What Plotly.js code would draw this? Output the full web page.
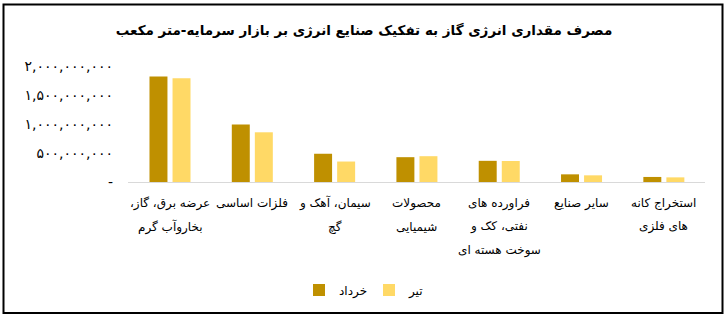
<!DOCTYPE html>
<html>
<head>
<meta charset="utf-8">
<script src="https://cdn.plot.ly/plotly-3.0.1.min.js"></script>
<style>
html,body{margin:0;padding:0;background:#fff;}
#chart{width:728px;height:318px;}
</style>
</head>
<body>
<div id="chart"></div>
<script>
const categories = [
  "عرضه برق، گاز،<br>بخاروآب گرم",
  "فلزات اساسی",
  "سیمان، آهک و<br>گچ",
  "محصولات<br>شیمیایی",
  "فراورده های<br>نفتی، کک و<br>سوخت هسته ای",
  "سایر صنایع",
  "استخراج کانه<br>های فلزی"
];
const seriesNames = ["خرداد", "تیر"];
const khordad = [1820000000, 990000000, 487000000, 428000000, 365000000, 132000000, 87000000];
const tir = [1790000000, 857000000, 353000000, 445000000, 362000000, 115000000, 80000000];
const tickVals = [0, 500000000, 1000000000, 1500000000, 2000000000];
const tickText = ["-", "۵۰۰,۰۰۰,۰۰۰", "۱,۰۰۰,۰۰۰,۰۰۰", "۱,۵۰۰,۰۰۰,۰۰۰", "۲,۰۰۰,۰۰۰,۰۰۰"];
const titleText = "مصرف مقداری انرژی گاز به تفکیک صنایع انرژی بر بازار سرمایه-متر مکعب";

const FONT = "DejaVu Sans, sans-serif";
const RLM = "\u200F";

const traces = [
  {type: "bar", name: seriesNames[0], x: categories, y: khordad, marker: {color: "#BF9000"}, hoverinfo: "y"},
  {type: "bar", name: seriesNames[1], x: categories, y: tir, marker: {color: "#FFD966"}, hoverinfo: "y"}
];

const annotations = [];
categories.forEach(function(cat) {
  cat.split("<br>").forEach(function(line, i) {
    annotations.push({
      x: cat, y: 0, xref: "x", yref: "y",
      text: RLM + line + RLM, showarrow: false,
      xanchor: "center", yanchor: "middle",
      yshift: -21 - i * 23.5,
      font: {family: FONT, size: 12, color: "#000"}
    });
  });
});

const layout = {
  width: 728, height: 318,
  margin: {l: 128, r: 23, t: 66, b: 136},
  paper_bgcolor: "#fff", plot_bgcolor: "#fff",
  font: {family: FONT, color: "#000"},
  title: {
    text: "<b>" + titleText + "</b>",
    x: 0.5, xref: "container", xanchor: "center",
    y: 1 - 30 / 318, yref: "container", yanchor: "middle",
    font: {family: FONT, size: 13.5, color: "#000"}
  },
  barmode: "group",
  bargap: 0.44,
  bargroupgap: 0.22,
  xaxis: {
    type: "category",
    showticklabels: false,
    showline: true, linecolor: "#d9d9d9", linewidth: 1,
    showgrid: false, zeroline: false, ticks: ""
  },
  yaxis: {
    range: [0, 2000000000],
    tickvals: tickVals, ticktext: tickText,
    showgrid: false, zeroline: false, showline: false,
    ticks: "", ticklabelstandoff: 14,
    tickfont: {family: FONT, size: 14, color: "#000"}
  },
  showlegend: true,
  legend: {
    orientation: "h",
    x: 0.5 + 5 / 728, xref: "container", xanchor: "center",
    y: 1 - 290 / 318, yref: "container", yanchor: "middle",
    font: {family: FONT, size: 12, color: "#000"},
    itemwidth: 30, entrywidth: 25, traceorder: "normal"
  },
  annotations: annotations,
  shapes: [{
    type: "rect", xref: "paper", yref: "paper",
    x0: (3.5 - 128) / 577, x1: (722.5 - 128) / 577,
    y0: (182 - 313) / 116, y1: (182 - 4.5) / 116,
    line: {color: "#000", width: 2}, fillcolor: "rgba(0,0,0,0)"
  }]
};

Plotly.newPlot("chart", traces, layout, {displayModeBar: false, staticPlot: true});
</script>
</body>
</html>
